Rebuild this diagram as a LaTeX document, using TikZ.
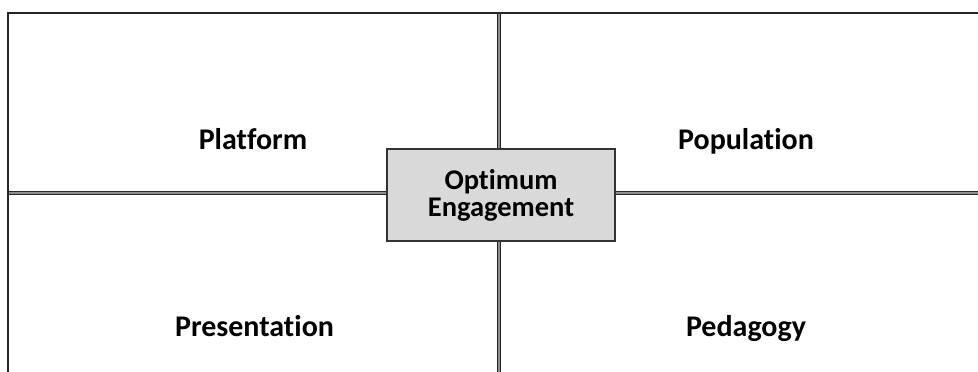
\documentclass[tikz,border=0pt]{standalone}
\usepackage{fontspec}
\setmainfont{Carlito}[Ligatures=NoCommon]
\usetikzlibrary{positioning}

\begin{document}
\begin{tikzpicture}[x=1pt,y=-1pt,
	cell/.style={font=\fontsize{30}{30}\selectfont\bfseries,inner sep=0pt,anchor=base},
	rule/.style={draw=black!85,line width=1.6pt,double=black!45,double distance=1.6pt},
	frame/.style={draw=black!85,line width=2pt},
	hub/.style={draw=black!80,line width=1.2pt,fill=black!15,minimum width=228pt,minimum height=92pt,
		align=center,font=\fontsize{28.5}{27}\selectfont\bfseries}]
	\useasboundingbox (0,0) rectangle (978,372);
	% frame and dividers
	\coordinate (TL) at (8,13);
	\coordinate (TR) at (978,13);
	\coordinate (BL) at (8,372);
	\coordinate (MT) at (499,13);
	\coordinate (MB) at (499,372);
	\coordinate (ML) at (8,193);
	\coordinate (MR) at (978,193);
	\draw[rule] (MT) -- (MB);
	\draw[rule] (ML) -- (MR);
	\draw[frame] (TR) -- (TL) -- (BL);
	% quadrants
	\node[cell] (plat) at (253,149)   {Platform};
	\node[cell] (pop)  at (746,149)   {Population};
	\node[cell] (pres) at (254.5,336) {Presentation};
	\node[cell] (ped)  at (746,336)   {Pedagogy};
	\node[hub]  (opt)  at (501,195)   {Optimum\\Engagement};
\end{tikzpicture}
\end{document}
